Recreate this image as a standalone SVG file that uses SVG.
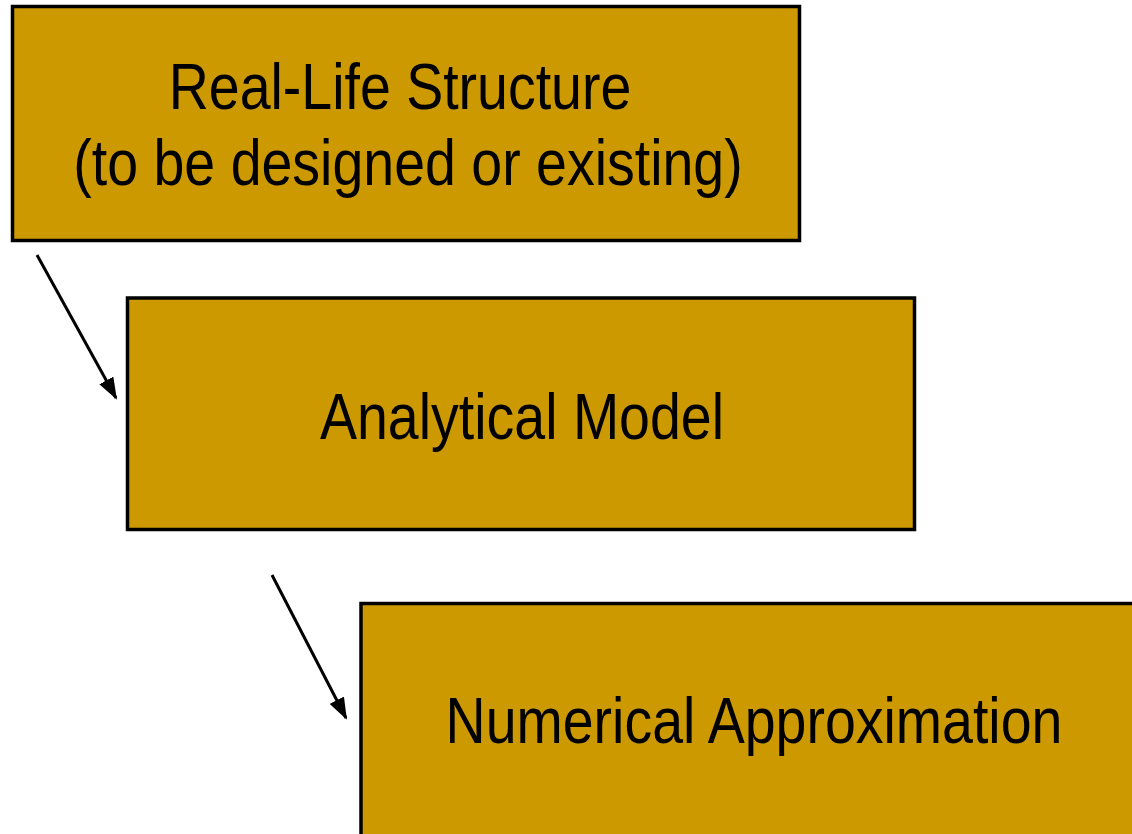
<svg xmlns="http://www.w3.org/2000/svg" width="1132" height="834" viewBox="0 0 1132 834">
<style>
.box{fill:#CC9900;stroke:#000;stroke-width:3.5}
.lbl{font-family:"Liberation Sans",Arial,sans-serif;font-size:55.5px;fill:#000;text-anchor:middle}
.conn{stroke:#000;stroke-width:3;fill:none}
</style>
<defs>
<marker id="ah" viewBox="0 0 22 16" refX="20" refY="8" markerWidth="22" markerHeight="16" markerUnits="userSpaceOnUse" orient="auto">
<path d="M0,0 L22,8 L0,16 z" fill="#000"/>
</marker>
</defs>
<rect width="1132" height="834" fill="#fff"/>
<g id="node-real">
<rect class="box" x="12.5" y="6.5" width="787" height="234"/>
<text class="lbl" transform="translate(400,109.3) scale(1,1.17)">Real-Life Structure</text>
<text class="lbl" transform="translate(408,185) scale(1,1.17)">(to be designed or existing)</text>
</g>
<g id="node-analytical">
<rect class="box" x="127.5" y="298" width="787" height="231.5"/>
<text class="lbl" transform="translate(522,439.3) scale(1,1.17)">Analytical Model</text>
</g>
<g id="node-numerical">
<rect class="box" x="361" y="603.5" width="800" height="300"/>
<text class="lbl" transform="translate(754,743.3) scale(1,1.17)">Numerical Approximation</text>
</g>
<g id="connectors">
<line class="conn" x1="37" y1="255" x2="116" y2="398" marker-end="url(#ah)"/>
<line class="conn" x1="272" y1="575" x2="346" y2="718" marker-end="url(#ah)"/>
</g>
</svg>
